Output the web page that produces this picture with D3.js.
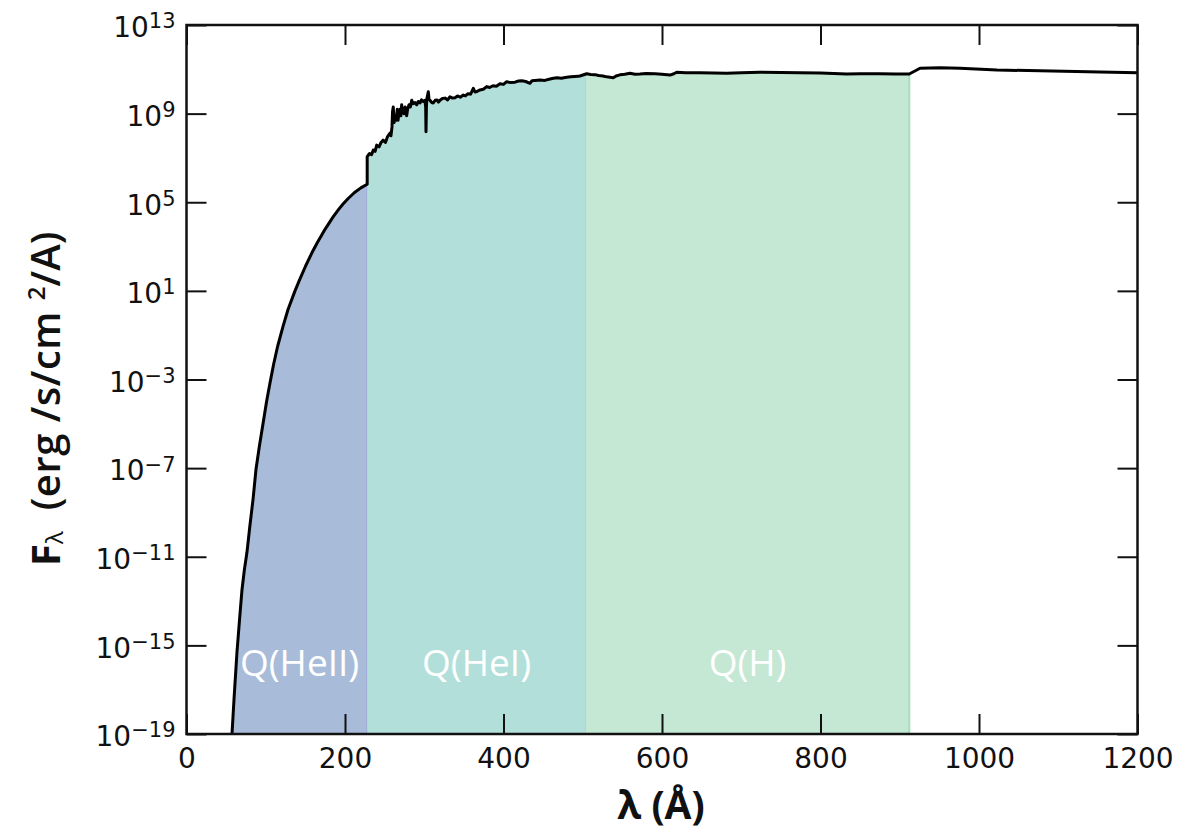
<!DOCTYPE html>
<html>
<head>
<meta charset="utf-8">
<script src="https://cdn.jsdelivr.net/npm/d3@7"></script>
<style>
  body { margin: 0; background: #fff; }
</style>
</head>
<body>
<script>
// spectrum: wavelength in Angstrom, log10 of F_lambda
const wavelength = [
    57.4, 60, 63.7, 67, 70, 73, 76.3, 80, 84, 87.7, 92, 97, 101, 105.4, 110, 115,
    121.8, 128, 136.9, 142, 150, 158.4, 165, 175, 185, 192, 197.5, 204, 212, 220, 228,
    228, 231, 233.5, 235.7, 238, 240, 243, 245.5, 248, 251, 253.5, 256.8, 258, 259.3,
    260, 260.9, 262, 263.1, 264.5, 266, 266.9, 268, 269.4, 270.5, 271.5, 273, 274.4,
    276, 277.8, 279, 280.8, 282.5, 284.2, 286, 288.3, 290.5, 292.5, 294.6, 296.5,
    298.4, 300.9, 301.8, 302.2, 302.8, 303.5, 305.1, 306, 307.2, 309.5, 311.4, 313.8,
    316.1, 318, 319.9, 323, 326.2, 329.5, 332.5, 335.5, 338.8, 342, 345.5, 349.3,
    352, 355.2, 358.5, 361.9, 364, 366.6, 370.3, 374.5, 378.8, 382.5, 386.7, 391,
    395.6, 400, 404, 409, 414.5, 419, 423.3, 428, 433.4, 436, 439.7, 446, 452,
    458.7, 463, 467.5, 473, 479.7, 485, 490.2, 496.5, 505, 510, 515.4, 520, 525.5,
    530, 534.4, 538.5, 542, 547, 553, 559.6, 566, 572.2, 580, 591.2, 600, 610.1,
    615, 618.5, 630, 647.9, 665, 681.6, 700, 723.6, 750, 774.1, 800, 833, 850, 875,
    895, 912,
    925.6, 950.8, 976, 1022.7, 1077, 1152.6, 1200
];
const logFlux = [
    -19, -17.4, -15.3, -13.8, -12.5, -11.6, -10.8, -9.6, -8.4, -7.05, -6.0, -4.9, -4.0, -3.15, -2.3, -1.5,
    -0.6, 0.15, 1.0, 1.44, 2.1, 2.73, 3.17, 3.79, 4.34, 4.68, 4.92, 5.17, 5.44, 5.65, 5.81,
    7.06, 7.2, 7.15, 7.36, 7.3, 7.58, 7.5, 7.7, 7.8, 7.7, 7.95, 8.12, 8.0, 8.4,
    9.1, 9.3, 8.6, 8.85, 8.7, 9.2, 8.7, 9.0, 9.2, 8.9, 9.4, 9.1, 9.0,
    9.3, 8.9, 9.2, 9.4, 9.3, 9.6, 9.45, 9.5, 9.4, 9.55, 9.48, 9.62,
    9.55, 9.6, 9.3, 8.18, 9.4, 9.7, 9.99, 9.65, 9.6, 9.5, 9.48, 9.6,
    9.62, 9.52, 9.6, 9.68, 9.7, 9.62, 9.76, 9.7, 9.72, 9.8, 9.74, 9.84,
    9.8, 9.9, 9.88, 10.14, 9.98, 10.0, 10.07, 10.1, 10.22, 10.18, 10.26, 10.24,
    10.35, 10.32, 10.44, 10.4, 10.42, 10.47, 10.48, 10.45, 10.37, 10.48, 10.5, 10.52, 10.5,
    10.56, 10.6, 10.62, 10.6, 10.64, 10.66, 10.68, 10.7, 10.8, 10.77, 10.76, 10.72, 10.7,
    10.66, 10.64, 10.62, 10.7, 10.75, 10.78, 10.82, 10.78, 10.79, 10.81, 10.8, 10.78, 10.74,
    10.8, 10.87, 10.84, 10.84, 10.83, 10.82, 10.85, 10.87, 10.86, 10.84, 10.83, 10.79, 10.8, 10.8,
    10.79, 10.79,
    11.05, 11.07, 11.05, 10.97, 10.93, 10.88, 10.85
];

const xTicks = [0, 200, 400, 600, 800, 1000, 1200];
const yTickExponents = [13, 9, 5, 1, -3, -7, -11, -15, -19];

const regionNames = ["Q(HeII)", "Q(HeI)", "Q(H)"];
const regionStart = [57.4, 228, 504];
const regionEnd = [228, 504, 912];

const regionFill = ["#a8bcd9", "#b2dfda", "#c4e8d4"];
const regionEdge = ["#a2acdc", "#a8d6e0", "#a6debb"];

const W = 1182, H = 831;
const mLeft = 186.5, mRight = 1137.5, mTop = 25, mBottom = 734;

const spectrum = wavelength.map((w, i) => ({ w: w, f: Math.pow(10, logFlux[i]) }));

const x = d3.scaleLinear().domain([0, 1200]).range([mLeft, mRight]);
const y = d3.scaleLog().domain([1e-19, 1e13]).range([mBottom, mTop]);

const svg = d3.select("body").append("svg")
    .attr("width", W)
    .attr("height", H)
    .style("font-family", "DejaVu Sans");

// value of the spectrum at a wavelength (linear in log space)
const valueAt = (w) => {
    const i = d3.bisector(d => d.w).left(spectrum, w);
    if (i <= 0) return spectrum[0].f;
    if (i >= spectrum.length) return spectrum[spectrum.length - 1].f;
    const a = spectrum[i - 1], b = spectrum[i];
    if (b.w === w) return b.f;
    const t = (w - a.w) / (b.w - a.w);
    return Math.pow(10, Math.log10(a.f) + t * (Math.log10(b.f) - Math.log10(a.f)));
};

const regionPoints = (lo, hi, k) => {
    let pts = spectrum.filter(d => d.w >= lo && d.w <= hi);
    if (k === 0) pts = pts.slice(0, pts.length - 1); // below the jump at 228
    if (k === 1) pts = pts.slice(1);
    if (pts[0].w > lo) pts.unshift({ w: lo, f: valueAt(lo) });
    if (pts[pts.length - 1].w < hi) pts.push({ w: hi, f: valueAt(hi) });
    return pts;
};

const area = d3.area()
    .x(d => x(d.w))
    .y0(mBottom)
    .y1(d => y(d.f));

regionNames.forEach((name, k) => {
    const pts = regionPoints(regionStart[k], regionEnd[k], k);
    svg.append("path")
        .attr("d", area(pts))
        .attr("fill", regionFill[k]);
    const last = pts[pts.length - 1];
    svg.append("line")
        .attr("x1", x(last.w)).attr("x2", x(last.w))
        .attr("y1", mBottom).attr("y2", y(last.f))
        .attr("stroke", regionEdge[k])
        .attr("stroke-width", 2);
    svg.append("text")
        .attr("x", x((regionStart[k] + regionEnd[k]) / 2))
        .attr("y", y(Math.pow(10, -16.4)))
        .attr("text-anchor", "middle")
        .attr("fill", "#fff")
        .style("font-family", "Open Sans")
        .style("font-size", "37px")
        .text(name);
});

const line = d3.line()
    .x(d => x(d.w))
    .y(d => y(d.f));

svg.append("path")
    .datum(spectrum)
    .attr("d", line)
    .attr("fill", "none")
    .attr("stroke", "#000")
    .attr("stroke-width", 3)
    .attr("stroke-linejoin", "round");

// axes, ticks pointing inward on all four sides
const yVals = yTickExponents.map(e => Math.pow(10, e));

const xAxis = svg.append("g")
    .attr("transform", `translate(0,${mBottom})`)
    .call(d3.axisBottom(x).tickValues(xTicks).tickSize(-20).tickPadding(14).tickFormat(d3.format("d")));

svg.append("g")
    .attr("transform", `translate(0,${mTop})`)
    .call(d3.axisTop(x).tickValues(xTicks).tickSize(-20).tickFormat(""));

const yAxis = svg.append("g")
    .attr("transform", `translate(${mLeft},0)`)
    .call(d3.axisLeft(y).tickValues(yVals).tickSize(-20).tickPadding(11));

svg.append("g")
    .attr("transform", `translate(${mRight},0)`)
    .call(d3.axisRight(y).tickValues(yVals).tickSize(-20).tickFormat(""));

svg.selectAll(".domain").remove();
svg.selectAll(".tick line").attr("stroke", "#111").attr("stroke-width", 2);

xAxis.selectAll("text")
    .style("font-size", "28px")
    .style("font-family", "DejaVu Sans")
    .attr("fill", "#111");

yAxis.selectAll("text")
    .style("font-size", "28px")
    .style("font-family", "DejaVu Sans")
    .attr("fill", "#111")
    .attr("dy", "0.42em")
    .each(function (d) {
        const e = Math.round(Math.log10(d));
        const t = d3.select(this).text(null);
        t.append("tspan").text("10");
        t.append("tspan")
            .attr("dy", "-0.42em")
            .style("font-size", "21px")
            .text(e < 0 ? "\u2212" + (-e) : String(e));
    });

svg.append("rect")
    .attr("x", mLeft).attr("y", mTop)
    .attr("width", mRight - mLeft).attr("height", mBottom - mTop)
    .attr("fill", "none")
    .attr("stroke", "#111")
    .attr("stroke-width", 2.5);

// axis titles
svg.append("text")
    .attr("x", 661)
    .attr("y", 819)
    .attr("text-anchor", "middle")
    .style("font-family", "Open Sans")
    .style("font-weight", "bold")
    .style("font-size", "39px")
    .attr("fill", "#111")
    .text("\u03bb (\u00c5)");

const yTitle = svg.append("text")
    .attr("transform", "translate(60,566) rotate(-90)")
    .attr("text-anchor", "start")
    .style("font-family", "Open Sans")
    .style("font-size", "40px")
    .attr("fill", "#111");
yTitle.append("tspan").style("font-weight", "bold").text("F");
yTitle.append("tspan").style("font-size", "24px").attr("dy", "3").text("\u03bb");
yTitle.append("tspan").style("font-weight", 600).attr("dy", "-3").attr("dx", "10")
    .style("letter-spacing", "0.5px").text(" (erg /s/cm ");
yTitle.append("tspan").style("font-weight", 600).style("font-size", "24px").attr("dy", "-15").text("2");
yTitle.append("tspan").style("font-weight", 600).attr("dy", "15").text("/A)");
</script>
</body>
</html>
